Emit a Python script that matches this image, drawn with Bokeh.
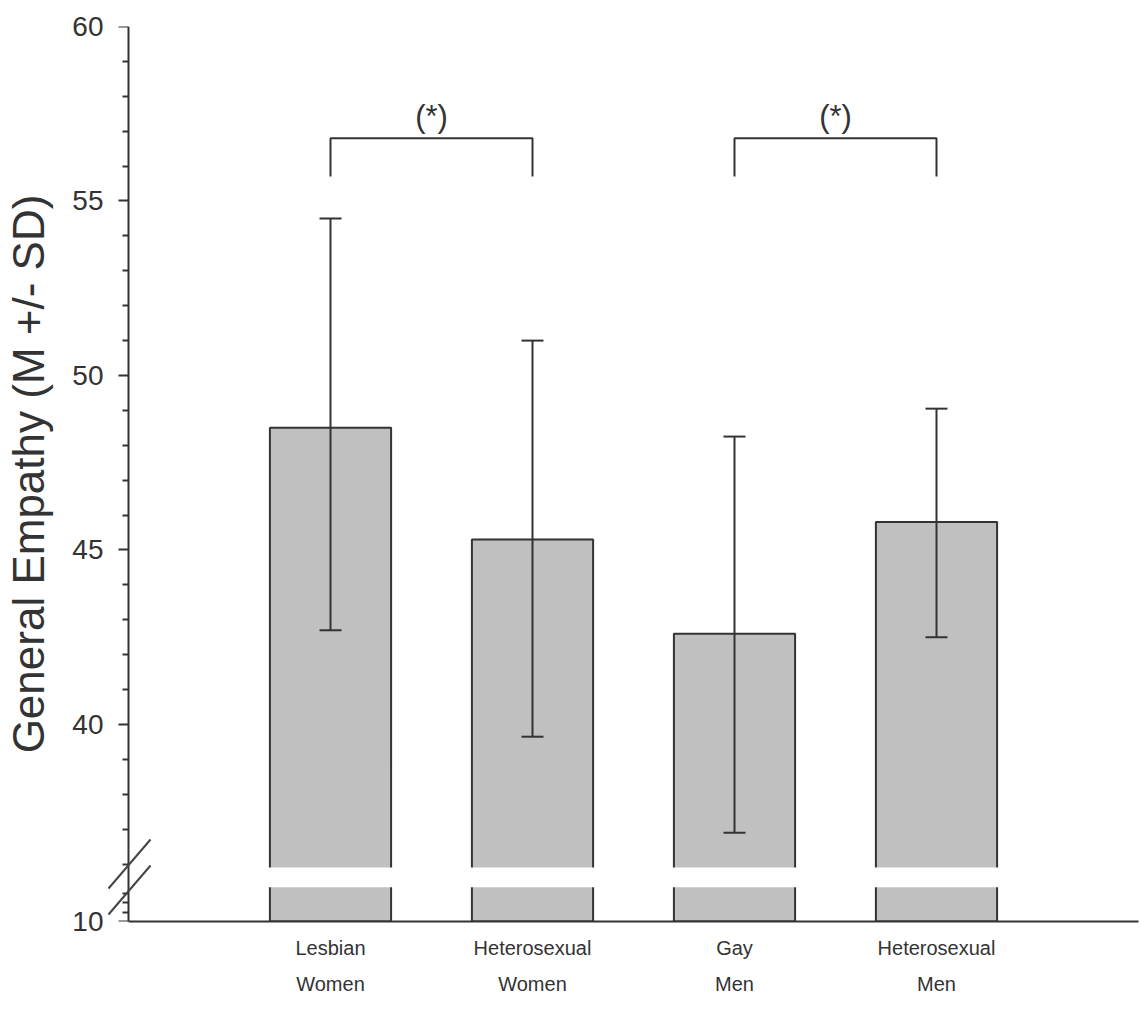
from bokeh.plotting import figure
from bokeh.models import Range1d, FixedTicker, ColumnDataSource, Whisker, TeeHead, Arrow, LinearAxis
from bokeh.embed import file_html
from bokeh.resources import INLINE
from bokeh.core.properties import value

# ---------------- data ----------------
categories = ["Lesbian\nWomen", "Heterosexual\nWomen", "Gay\nMen", "Heterosexual\nMen"]
means = [48.5, 45.3, 42.6, 45.8]
sd_upper = [54.5, 51.0, 48.25, 49.05]
sd_lower = [42.7, 39.65, 36.9, 42.5]
y_major = [40, 45, 50, 55, 60]
y_minor = [v for v in range(36, 60) if v % 5 != 0]
y_low_base = 10
y_low_minor = [11, 12, 13]
sig_pairs = [(0, 1), (2, 3)]
sig_label = "(*)"
y_title = "General Empathy (M +/- SD)"

# ---------------- broken axis mapping ----------------
UPPER_START = 35.9     # upper segment begins here (data units)
LOW_TOP = 13.6         # lower segment ends here (data units)
LOW_SCALE = 0.272      # compression of the lower segment
AXIS_BASE = 34.355     # display position of the value 10


def to_axis(v):
    if v >= UPPER_START - 1e-9:
        return v
    return AXIS_BASE + (v - y_low_base) * LOW_SCALE


INK = "#333333"
FONT = "Liberation Sans"

xs = list(range(1, len(categories) + 1))
base = to_axis(y_low_base)
X0 = -0.1238   # a little room left of the y axis for the break marks

p = figure(width=1140, height=1010, x_range=Range1d(X0, 5), y_range=Range1d(base, 60),
           output_backend="svg", toolbar_location=None, title=None,
           min_border_left=103, min_border_right=2, min_border_top=26, min_border_bottom=89)
p.outline_line_color = None
p.grid.visible = False
p.background_fill_color = "white"

# bars
src = ColumnDataSource(dict(x=xs, top=means, upper=sd_upper, lower=sd_lower))
p.vbar(x="x", width=0.6, bottom=base, top="top", source=src,
       fill_color="#c0c0c0", line_color=INK, line_width=2)

# white gap of the axis break
p.quad(left=0, right=5, bottom=to_axis(LOW_TOP), top=UPPER_START,
       fill_color="white", line_color=None)

# error bars
p.add_layout(Whisker(base="x", upper="upper", lower="lower", source=src, level="annotation",
                     line_color=INK, line_width=2,
                     upper_head=TeeHead(size=22, line_color=INK, line_width=2),
                     lower_head=TeeHead(size=22, line_color=INK, line_width=2)))

# significance brackets
BR_TOP = 56.8
BR_LEG = 55.7
for a, b in sig_pairs:
    xa, xb = xs[a], xs[b]
    p.line([xa, xa, xb, xb], [BR_LEG, BR_TOP, BR_TOP, BR_LEG], line_color=INK, line_width=2)
    p.text(x=[(xa + xb) / 2], y=[BR_TOP + 0.12], text=[sig_label], text_align="center",
           text_baseline="bottom", text_font_size="31px", text_font=value(FONT),
           text_color=INK)

# break marks "//"
for dy in (0.0, -0.745):
    p.add_layout(Arrow(end=None, x_start=-0.099, y_start=35.30 + dy,
                       x_end=0.109, y_end=36.705 + dy,
                       line_color="#444444", line_width=2))

# x axis
p.xaxis.bounds = (0, 5)
p.xaxis.ticker = FixedTicker(ticks=xs)
p.xaxis.major_label_overrides = {x: c for x, c in zip(xs, categories)}
p.xaxis.major_tick_out = 0
p.xaxis.major_tick_in = 0
p.xaxis.minor_tick_out = 0
p.xaxis.minor_tick_in = 0
p.xaxis.axis_line_color = INK
p.xaxis.axis_line_width = 2
p.xaxis.major_label_text_font = FONT
p.xaxis.major_label_text_font_size = "20px"
p.xaxis.major_label_text_color = INK
p.xaxis.major_label_text_line_height = 1.65
p.xaxis.major_label_standoff = 15

# y axis: ticks and line drawn at x = 0 (its labels are drawn by label_axis below)
y_ticks = [base] + y_major
y_ticker = FixedTicker(ticks=y_ticks,
                       minor_ticks=y_minor + [to_axis(v) for v in y_low_minor])
p.yaxis.fixed_location = 0
p.yaxis.ticker = y_ticker
p.yaxis.major_label_overrides = {t: "" for t in y_ticks}
p.yaxis.major_tick_out = 10
p.yaxis.major_tick_in = 0
p.yaxis.minor_tick_out = 6
p.yaxis.minor_tick_in = 0
p.yaxis.major_tick_line_color = INK
p.yaxis.minor_tick_line_color = INK
p.yaxis.major_tick_line_width = 2
p.yaxis.minor_tick_line_width = 2
p.yaxis.axis_line_color = INK
p.yaxis.axis_line_width = 2

# y tick labels and title, in the left border
label_axis = LinearAxis(ticker=y_ticker, axis_line_color=None,
                        major_tick_line_color=None, minor_tick_line_color=None,
                        major_tick_out=0, major_tick_in=0, minor_tick_out=0, minor_tick_in=0,
                        major_label_overrides={base: str(y_low_base)},
                        major_label_text_font=FONT, major_label_text_font_size="28px",
                        major_label_text_color=INK, major_label_standoff=0,
                        axis_label=y_title, axis_label_text_font=FONT,
                        axis_label_text_font_size="44px", axis_label_text_font_style="normal",
                        axis_label_text_color=INK, axis_label_standoff=16)
p.add_layout(label_axis, "left")

open("out.html", "w").write(file_html(p, INLINE))
